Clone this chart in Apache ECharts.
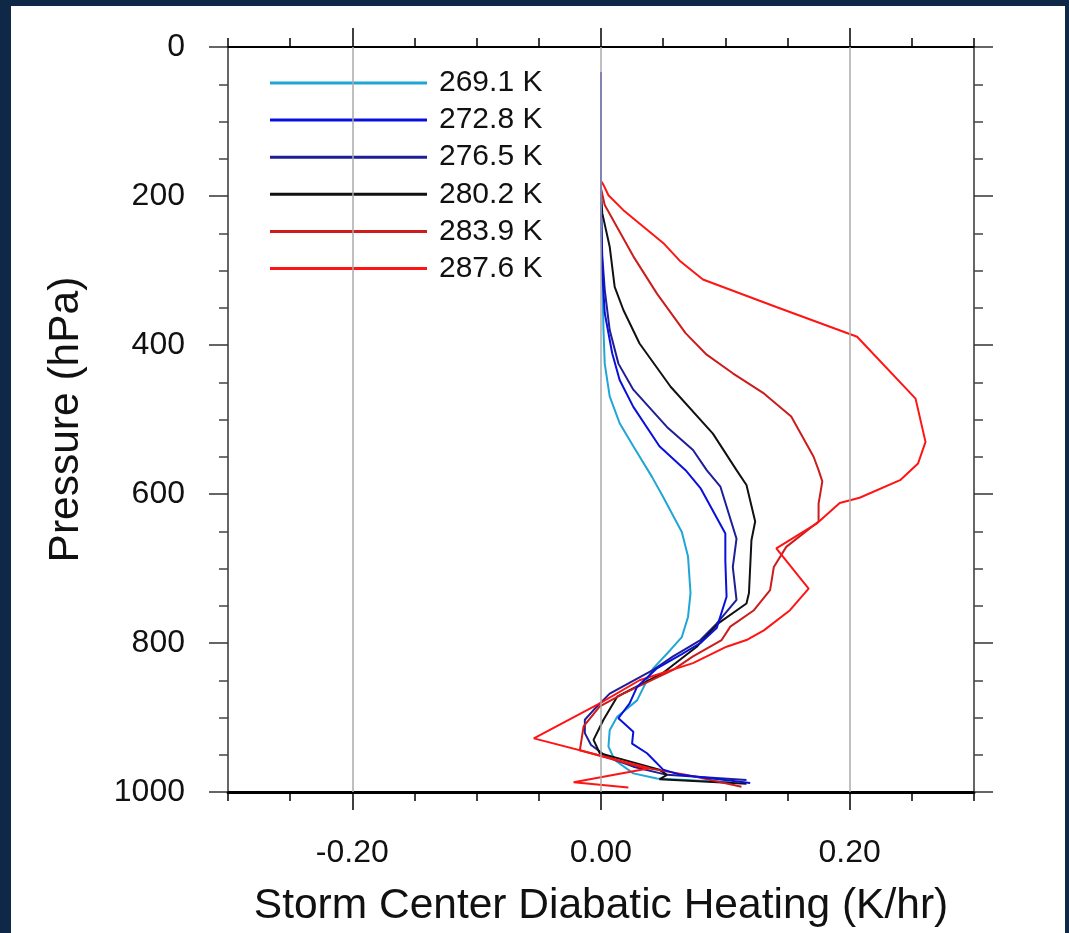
<!DOCTYPE html>
<html><head><meta charset="utf-8">
<script src="https://cdn.jsdelivr.net/npm/echarts@6/dist/echarts.min.js"></script>
<style>
html,body{margin:0;padding:0;width:1069px;height:933px;overflow:hidden;background:#102848;}
#panel{position:absolute;left:11px;top:6px;width:1054px;height:927px;background:#fff;}
#chart{position:absolute;left:0;top:0;width:1069px;height:933px;}
</style></head>
<body><div id="panel"></div><div id="chart"></div>
<script>
// ---- data: [heating (K/hr), pressure (hPa)] ----
const seriesNames = ['269.1 K', '272.8 K', '276.5 K', '280.2 K', '283.9 K', '287.6 K'];
const seriesColors = ['#1fa6d6', '#0a10dc', '#1e1e98', '#111111', '#cc1c1c', '#ff1414'];

const s2691 = [[0,34],[0,200],[0.001,300],[0.002,380],[0.003,425],[0.007,469],[0.015,505],[0.026,536],[0.041,577],[0.050,604],[0.065,651],[0.070,684],[0.072,733],[0.070,765],[0.065,792],[0.056,809],[0.042,834],[0.037,850],[0.029,877],[0.013,899],[0.007,917],[0.006,939],[0.011,957],[0.026,975],[0.045,982],[0.103,987]];
const s2728 = [[0,34],[0,220],[0.001,300],[0.003,357],[0.009,411],[0.015,447],[0.026,483],[0.047,536],[0.068,568],[0.080,592],[0.100,653],[0.100,690],[0.101,738],[0.093,780],[0.080,800],[0.065,815],[0.045,834],[0.029,859],[0.023,881],[0.014,901],[0.026,919],[0.025,935],[0.037,948],[0.050,970],[0.064,977],[0.120,988]];
const s2765 = [[0,34],[0,220],[0.001,280],[0.003,326],[0.007,380],[0.014,425],[0.026,460],[0.053,510],[0.074,541],[0.085,568],[0.096,590],[0.109,660],[0.106,698],[0.109,742],[0.093,774],[0.080,796],[0.058,818],[0.042,836],[0.007,868],[-0.006,890],[-0.013,903],[-0.013,921],[-0.008,937],[0.005,953],[0.026,966],[0.053,977],[0.117,984]];
const s2802 = [[0,195],[0.001,223],[0.007,268],[0.011,322],[0.018,353],[0.031,398],[0.056,456],[0.090,519],[0.109,568],[0.117,588],[0.124,637],[0.121,662],[0.119,733],[0.117,747],[0.094,774],[0.077,805],[0.050,840],[0.013,872],[0.002,903],[-0.006,930],[-0.001,948],[0.047,970],[0.053,977],[0.047,983],[0.117,989]];
const s2839 = [[0,190],[0.003,212],[0.026,281],[0.045,331],[0.068,384],[0.085,413],[0.106,438],[0.131,465],[0.153,496],[0.171,550],[0.175,568],[0.178,583],[0.175,613],[0.175,637],[0.149,671],[0.139,698],[0.136,729],[0.123,756],[0.104,778],[0.097,796],[0.074,818],[0.058,836],[0.018,868],[-0.001,885],[-0.014,912],[-0.017,944],[0.031,966],[0.069,977],[0.113,993]];
const s2876 = [[0,180],[0.002,185],[0.006,199],[0.018,219],[0.050,263],[0.064,288],[0.082,312],[0.141,349],[0.206,389],[0.253,472],[0.261,530],[0.255,559],[0.241,581],[0.208,605],[0.192,612],[0.174,639],[0.141,673],[0.167,727],[0.152,756],[0.131,783],[0.117,796],[0.101,805],[0.074,827],[0.031,850],[-0.001,881],[-0.054,928],[0.039,968],[-0.022,987],[0.022,994]];
const seriesData = [s2691, s2728, s2765, s2802, s2839, s2876];

const xMajor = [-0.2, 0, 0.2];
const xTickLabels = ['-0.20', '0.00', '0.20'];
const xTitle = 'Storm Center Diabatic Heating (K/hr)';
const yTitle = 'Pressure (hPa)';

const FONT = '"Liberation Sans", Arial, Helvetica, sans-serif';
const chart = echarts.init(document.getElementById('chart'), null, {renderer: 'canvas'});

const xBase = {type: 'value', min: -0.3, max: 0.3, gridIndex: 0, splitLine: {show: false}};
const tickStyle = {color: '#000', width: 1.5};

const series = seriesData.map((d, i) => ({
  name: seriesNames[i],
  type: 'line',
  data: d,
  xAxisIndex: 0,
  yAxisIndex: 0,
  symbol: 'none',
  showSymbol: false,
  color: seriesColors[i],
  itemStyle: {color: seriesColors[i]},
  lineStyle: {color: seriesColors[i], width: 2},
  z: 3
}));
series[1].z = 4;
series[0].markLine = {
  silent: true,
  symbol: 'none',
  animation: false,
  label: {show: false},
  lineStyle: {color: '#aaaaaa', type: 'solid', width: 1.5},
  emphasis: {disabled: true},
  data: xMajor.map(v => ({xAxis: v}))
};

chart.setOption({
  animation: false,
  backgroundColor: 'transparent',
  textStyle: {fontFamily: FONT},
  grid: {left: 228, top: 47, width: 746, height: 745, containLabel: false},
  legend: {
    orient: 'vertical', left: 262, top: 60,
    itemWidth: 157, itemHeight: 3, itemGap: 7.1, icon: 'rect',
    backgroundColor: '#fff', padding: [8, 14, 4, 8],
    textStyle: {fontSize: 30, lineHeight: 30, color: '#111', fontFamily: FONT, padding: [0, 0, 0, 7]},
    data: seriesNames
  },
  xAxis: [
    Object.assign({}, xBase, {
      position: 'bottom', interval: 0.05,
      axisLine: {show: true, onZero: false, lineStyle: {color: '#000', width: 3}},
      axisTick: {show: true, length: 9, lineStyle: tickStyle},
      axisLabel: {show: false},
      name: xTitle, nameLocation: 'middle', nameGap: 93,
      nameTextStyle: {fontSize: 42.5, color: '#111', fontFamily: FONT}
    }),
    Object.assign({}, xBase, {
      position: 'bottom',
      axisLine: {show: false, onZero: false},
      axisTick: {show: true, customValues: xMajor, length: 18, lineStyle: tickStyle},
      axisLabel: {show: true, customValues: xMajor, fontSize: 32, margin: 45, color: '#111', fontFamily: FONT,
        formatter: v => { const k = xMajor.findIndex(m => Math.abs(m - v) < 1e-9); return k >= 0 ? xTickLabels[k] : ''; }}
    }),
    Object.assign({}, xBase, {
      position: 'top', interval: 0.05,
      axisLine: {show: true, onZero: false, lineStyle: {color: '#000', width: 2}},
      axisTick: {show: true, length: 9, lineStyle: tickStyle},
      axisLabel: {show: false}
    }),
    Object.assign({}, xBase, {
      position: 'top',
      axisLine: {show: false, onZero: false},
      axisTick: {show: true, customValues: xMajor, length: 19, lineStyle: tickStyle},
      axisLabel: {show: false}
    })
  ],
  yAxis: [
    {
      type: 'value', inverse: true, min: 0, max: 1000, interval: 200, position: 'left',
      axisLine: {show: true, onZero: false, lineStyle: {color: '#333', width: 1.5}},
      axisTick: {show: true, length: 19, lineStyle: {color: '#333', width: 1.5}},
      minorTick: {show: true, splitNumber: 4, length: 9, lineStyle: {color: '#444', width: 1.5}},
      axisLabel: {show: true, fontSize: 32, margin: 43, color: '#111', fontFamily: FONT, formatter: v => String(v)},
      splitLine: {show: false}, minorSplitLine: {show: false},
      name: yTitle, nameLocation: 'middle', nameGap: 140, nameRotate: 90,
      nameTextStyle: {fontSize: 42.5, color: '#111', fontFamily: FONT}
    },
    {
      type: 'value', inverse: true, min: 0, max: 1000, interval: 200, position: 'right',
      axisLine: {show: true, onZero: false, lineStyle: {color: '#333', width: 1.5}},
      axisTick: {show: true, length: 19, lineStyle: {color: '#333', width: 1.5}},
      minorTick: {show: true, splitNumber: 4, length: 9, lineStyle: {color: '#444', width: 1.5}},
      axisLabel: {show: false},
      splitLine: {show: false}, minorSplitLine: {show: false}
    }
  ],
  series: series
});
</script></body></html>
